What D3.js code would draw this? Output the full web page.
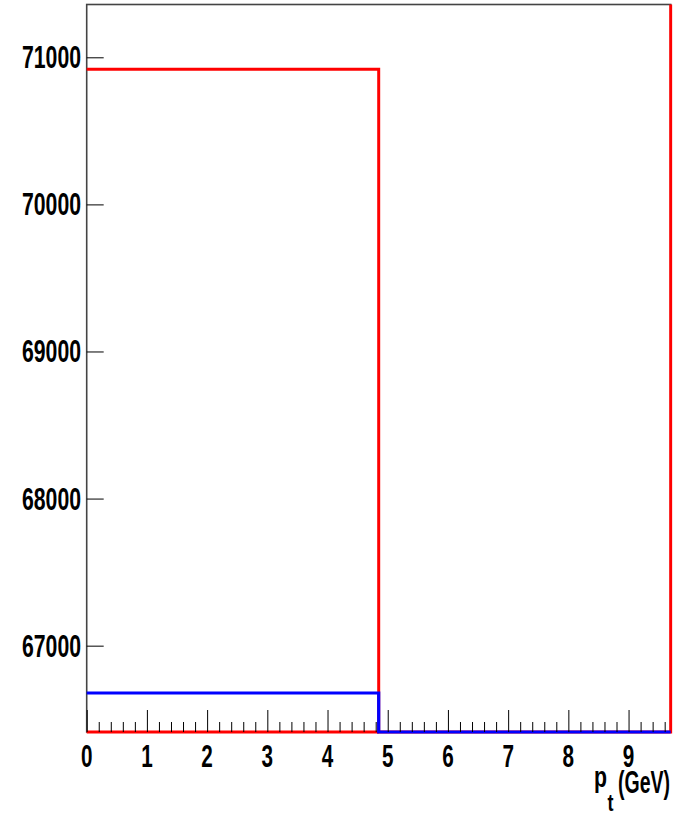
<!DOCTYPE html>
<html>
<head>
<meta charset="utf-8">
<script src="https://cdn.jsdelivr.net/npm/d3@7"></script>
<style>
  html, body { margin: 0; padding: 0; background: #fff; }
  svg { display: block; }
  text { font-family: "Liberation Sans", Arial, sans-serif; font-weight: bold; fill: #000; }
</style>
</head>
<body>
<script>
// Bin edges in p_t (GeV) and the two histograms' contents
const binEdges = [0, 4.85, 9.7];
const redCounts = [70918, 0];
const blueCounts = [66678, 0];

// Axis ranges and tick labels
const xDomain = [0, 9.7];
const yDomain = [66413, 71359];
const xTickValues = [0, 1, 2, 3, 4, 5, 6, 7, 8, 9];
const yTickValues = [67000, 68000, 69000, 70000, 71000];

const W = 678, H = 814;
const frame = { left: 86.7, right: 670.7, top: 4.5, bottom: 732 };

const svg = d3.select("body").append("svg").attr("width", W).attr("height", H);

const x = d3.scaleLinear().domain(xDomain).range([frame.left, frame.right]);
const y = d3.scaleLinear().domain(yDomain).range([frame.bottom, frame.top]).clamp(true);

// Clip region for the histogram outlines
svg.append("defs").append("clipPath").attr("id", "frameClip")
  .append("rect").attr("x", frame.left - 2).attr("y", frame.top - 2)
  .attr("width", frame.right - frame.left + 4).attr("height", frame.bottom - frame.top + 4);

// Step outline: starts at the top of the first bin, each later bin joined by a vertical edge
function stepPath(counts, closeRight) {
  const p = d3.path();
  counts.forEach((c, i) => {
    if (i === 0) p.moveTo(x(binEdges[0]), y(c));
    else p.lineTo(x(binEdges[i]), y(c));
    p.lineTo(x(binEdges[i + 1]), y(c));
  });
  if (closeRight) p.lineTo(x(binEdges[binEdges.length - 1]), y(yDomain[1]));
  return p.toString();
}

const hg = svg.append("g").attr("clip-path", "url(#frameClip)");

// Red: baseline along the bottom of the first bin, then the bin steps, closed up the right edge
const redBase = d3.path();
redBase.moveTo(x(binEdges[0]), y(yDomain[0]));
redBase.lineTo(x(binEdges[1]), y(yDomain[0]));
hg.append("path").attr("d", redBase.toString())
  .attr("fill", "none").attr("stroke", "#ff0000").attr("stroke-width", 3);

// Frame (left/top/bottom drawn before the outlines, right edge covered by the red closing line)
svg.insert("rect", "g")
  .attr("x", frame.left).attr("y", frame.top)
  .attr("width", frame.right - frame.left).attr("height", frame.bottom - frame.top)
  .attr("fill", "none").attr("stroke", "#444").attr("stroke-width", 1.6);

hg.append("path").attr("d", stepPath(redCounts, true))
  .attr("fill", "none").attr("stroke", "#ff0000").attr("stroke-width", 3)
  .attr("stroke-linejoin", "miter");

// Blue
hg.append("path").attr("d", stepPath(blueCounts, false))
  .attr("fill", "none").attr("stroke", "#0000ff").attr("stroke-width", 3.2)
  .attr("stroke-linejoin", "miter");

// Y axis: major ticks pointing into the frame
const yAxis = d3.axisLeft(y).tickValues(yTickValues).tickSize(-17).tickFormat("").tickSizeOuter(0);
const gy = svg.append("g").attr("transform", `translate(${frame.left},0)`).call(yAxis);
gy.select(".domain").remove();

// Y tick labels (narrow bold digits)
svg.append("g").selectAll("text").data(yTickValues).join("text")
  .attr("x", 81).attr("y", d => y(d) + 11)
  .attr("text-anchor", "end")
  .attr("font-size", 32)
  .attr("textLength", 59).attr("lengthAdjust", "spacingAndGlyphs")
  .text(d => d3.format("d")(d));

// X axis: major and minor ticks pointing up into the frame
const minorTicks = d3.range(0, 9.7, 0.2).map(v => +v.toFixed(2)).filter(v => Math.abs(v - Math.round(v)) > 1e-6);
const gxMinor = svg.append("g").attr("transform", `translate(0,${frame.bottom})`)
  .call(d3.axisBottom(x).tickValues(minorTicks).tickSize(-10).tickFormat("").tickSizeOuter(0));
gxMinor.select(".domain").remove();
const gxMajor = svg.append("g").attr("transform", `translate(0,${frame.bottom})`)
  .call(d3.axisBottom(x).tickValues(xTickValues).tickSize(-22).tickFormat("").tickSizeOuter(0));
gxMajor.select(".domain").remove();
svg.selectAll(".tick line").attr("stroke", "#000").attr("stroke-width", 1);

// X tick labels
svg.append("g").selectAll("text").data(xTickValues).join("text")
  .attr("x", d => x(d)).attr("y", 767)
  .attr("text-anchor", "middle")
  .attr("font-size", 32)
  .attr("textLength", 11.5).attr("lengthAdjust", "spacingAndGlyphs")
  .text(d => d);

// Axis title p_t(GeV)
const title = svg.append("g");
title.append("text").attr("x", 594).attr("y", 787).attr("font-size", 30)
  .attr("textLength", 13).attr("lengthAdjust", "spacingAndGlyphs").text("p");
title.append("text").attr("x", 607.5).attr("y", 811).attr("font-size", 24)
  .attr("textLength", 6).attr("lengthAdjust", "spacingAndGlyphs").text("t");
title.append("text").attr("x", 618).attr("y", 793).attr("font-size", 31)
  .attr("textLength", 52).attr("lengthAdjust", "spacingAndGlyphs").text("(GeV)");
</script>
</body>
</html>
